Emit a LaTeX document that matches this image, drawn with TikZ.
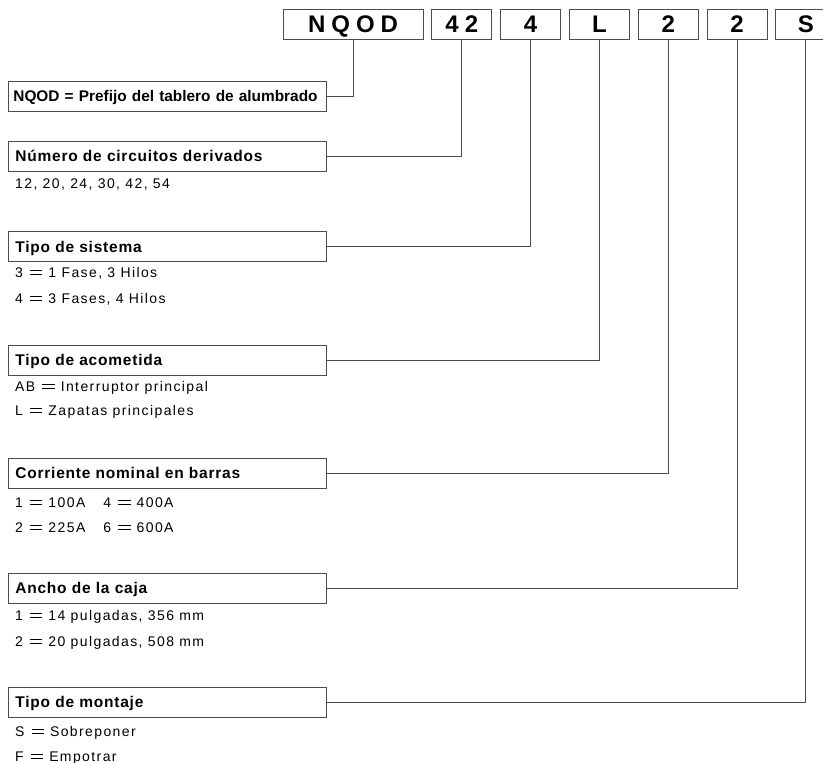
\documentclass[tikz,border=0pt]{standalone}
\usepackage{fontspec}
\setmainfont{Liberation Sans}
\newfontfamily\codefont[LetterSpace=25]{Liberation Sans}
\newfontfamily\headfont[LetterSpace=5]{Liberation Sans}
\newfontfamily\itemfont[LetterSpace=10]{Liberation Sans}
\newcommand{\eqs}{\hspace{7pt}\mbox{\rlap{\rule[2.5pt]{12.5pt}{0.8pt}}%
  \rule[6.1pt]{12.5pt}{0.8pt}}\hspace{6pt}}
\usetikzlibrary{positioning}

\begin{document}
\begin{tikzpicture}[
  x=1pt,y=-1pt,
  node distance=8pt,
  code/.style={draw=black!70,line width=0.8pt,minimum width=60pt,
    minimum height=30pt,inner sep=0pt,text height=17.2pt,text depth=0pt,
    font=\codefont\bfseries\fontsize{24}{24}\selectfont},
  head/.style={draw=black!70,line width=0.8pt,anchor=west,align=left,
    text width=304pt,minimum height=30pt,inner xsep=7pt,inner ysep=0pt,
    text height=11pt,text depth=0pt,
    font=\headfont\bfseries\fontsize{15.5}{16}\selectfont},
  item/.style={anchor=base west,inner sep=0pt,
    font=\itemfont\fontsize{14}{14}\selectfont},
  link/.style={draw=black!70,line width=0.8pt}
]
\useasboundingbox (0,0) rectangle (823,763);
% catalogue number
\node[code,minimum width=140pt] (nqod) at (353,24) {NQOD};
\node[code,right=of nqod] (c42) {42};
\node[code,right=of c42] (c4) {4};
\node[code,right=of c4] (cL) {L};
\node[code,right=of cL] (c2a) {2};
\node[code,right=of c2a] (c2b) {2};
\node[code,right=of c2b] (cS) {S};
% headings
\node[head,text width=308pt,inner xsep=5pt,
  font=\bfseries\fontsize{15.4}{16}\selectfont] (pref) at (8,96)
  {NQOD = Prefijo del tablero de alumbrado};
\node[head] (circ) at (8,156) {Número de circuitos derivados};
\node[head] (sist) at (8,246.5) {Tipo de sistema};
\node[head] (acom) at (8,360) {Tipo de acometida};
\node[head] (corr) at (8,473) {Corriente nominal en barras};
\node[head] (ancho) at (8,588) {Ancho de la caja};
\node[head] (mont) at (8,702) {Tipo de montaje};
% options
\node[item] (circ1) at (15,188) {12, 20, 24, 30, 42, 54};
\node[item] (sist1) at (15,277) {3\eqs 1 Fase, 3 Hilos};
\node[item] (sist2) at (15,303) {4\eqs 3 Fases, 4 Hilos};
\node[item] (acom1) at (15,391) {AB\eqs Interruptor principal};
\node[item] (acom2) at (15,415) {L\eqs Zapatas principales};
\node[item] (corr1) at (15,507) {1\eqs 100A\hspace{18pt}4\eqs 400A};
\node[item] (corr2) at (15,532) {2\eqs 225A\hspace{18pt}6\eqs 600A};
\node[item] (ancho1) at (15,620) {1\eqs 14 pulgadas, 356 mm};
\node[item] (ancho2) at (15,646) {2\eqs 20 pulgadas, 508 mm};
\node[item] (mont1) at (15,736) {S\eqs Sobreponer};
\node[item] (mont2) at (15,761) {F\eqs Empotrar};
% leaders
\draw[link] (pref.east) -| (nqod.south);
\draw[link] (circ.east) -| (c42.south);
\draw[link] (sist.east) -| (c4.south);
\draw[link] (acom.east) -| (cL.south);
\draw[link] (corr.east) -| (c2a.south);
\draw[link] (ancho.east) -| (c2b.south);
\draw[link] (mont.east) -| (cS.south);
\end{tikzpicture}
\end{document}
